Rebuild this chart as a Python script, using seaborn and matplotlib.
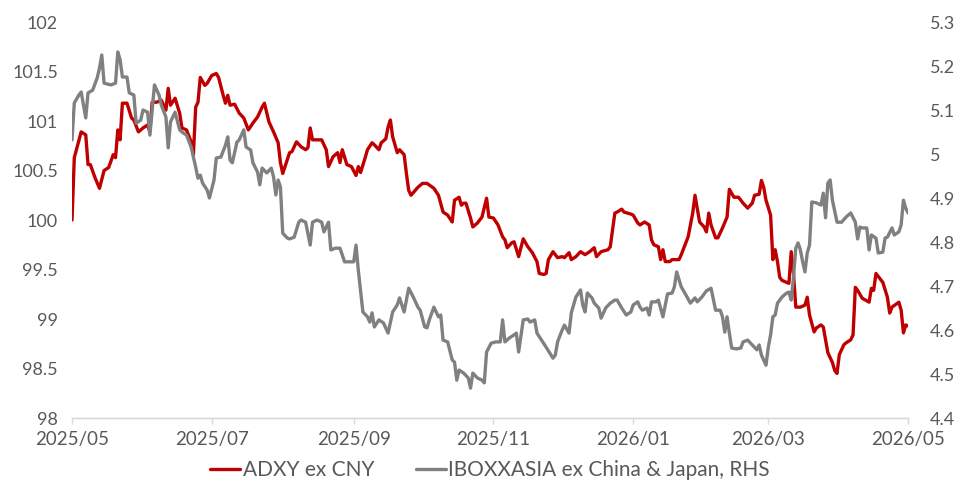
import pandas as pd
import matplotlib
matplotlib.use("Agg")
import matplotlib.pyplot as plt
import matplotlib.dates as mdates
from matplotlib.ticker import FuncFormatter
import seaborn as sns

# ADXY ex CNY (left axis)
adxy_dates = [
    "2025-05-01", "2025-05-02", "2025-05-05", "2025-05-07", "2025-05-08", "2025-05-09", "2025-05-11", "2025-05-13",
    "2025-05-15", "2025-05-17", "2025-05-19", "2025-05-20", "2025-05-21", "2025-05-22", "2025-05-23", "2025-05-25",
    "2025-05-27", "2025-05-28", "2025-05-30",
    "2025-06-01", "2025-06-03", "2025-06-04", "2025-06-05", "2025-06-07", "2025-06-09", "2025-06-11", "2025-06-12",
    "2025-06-13", "2025-06-15", "2025-06-17", "2025-06-18", "2025-06-20", "2025-06-22", "2025-06-23", "2025-06-24",
    "2025-06-25", "2025-06-26", "2025-06-28", "2025-06-29",
    "2025-07-01", "2025-07-03", "2025-07-04", "2025-07-06", "2025-07-07", "2025-07-08", "2025-07-09", "2025-07-11",
    "2025-07-13", "2025-07-15", "2025-07-17", "2025-07-19", "2025-07-21", "2025-07-23", "2025-07-24", "2025-07-26",
    "2025-07-28", "2025-07-30", "2025-07-31",
    "2025-08-01", "2025-08-02", "2025-08-04", "2025-08-05", "2025-08-07", "2025-08-09", "2025-08-11", "2025-08-12",
    "2025-08-13", "2025-08-14", "2025-08-16", "2025-08-18", "2025-08-20", "2025-08-21", "2025-08-23", "2025-08-25",
    "2025-08-26", "2025-08-27", "2025-08-29", "2025-08-31",
    "2025-09-02", "2025-09-03", "2025-09-04", "2025-09-06", "2025-09-07", "2025-09-09", "2025-09-10", "2025-09-12",
    "2025-09-13", "2025-09-15", "2025-09-16", "2025-09-17", "2025-09-18", "2025-09-20", "2025-09-21", "2025-09-23",
    "2025-09-24", "2025-09-25", "2025-09-26", "2025-09-29", "2025-09-30",
    "2025-10-01", "2025-10-03", "2025-10-06", "2025-10-08", "2025-10-10", "2025-10-12", "2025-10-14", "2025-10-15",
    "2025-10-17", "2025-10-18", "2025-10-19", "2025-10-20", "2025-10-22", "2025-10-23", "2025-10-25", "2025-10-27",
    "2025-10-29", "2025-10-30",
    "2025-11-01", "2025-11-03", "2025-11-05", "2025-11-06", "2025-11-07", "2025-11-09", "2025-11-10", "2025-11-12",
    "2025-11-14", "2025-11-16", "2025-11-18", "2025-11-20", "2025-11-21", "2025-11-23", "2025-11-24", "2025-11-25",
    "2025-11-27", "2025-11-29",
    "2025-12-01", "2025-12-02", "2025-12-04", "2025-12-05", "2025-12-07", "2025-12-09", "2025-12-11", "2025-12-13",
    "2025-12-15", "2025-12-16", "2025-12-18", "2025-12-21", "2025-12-22", "2025-12-24", "2025-12-25", "2025-12-27",
    "2025-12-28", "2025-12-31",
    "2026-01-01", "2026-01-03", "2026-01-04", "2026-01-06", "2026-01-08", "2026-01-09", "2026-01-10", "2026-01-12",
    "2026-01-13", "2026-01-14", "2026-01-15", "2026-01-17", "2026-01-18", "2026-01-21", "2026-01-22", "2026-01-25",
    "2026-01-27", "2026-01-28", "2026-01-30",
    "2026-02-01", "2026-02-02", "2026-02-03", "2026-02-04", "2026-02-06", "2026-02-07", "2026-02-09", "2026-02-11",
    "2026-02-12", "2026-02-14", "2026-02-16", "2026-02-18", "2026-02-20", "2026-02-22", "2026-02-23", "2026-02-25",
    "2026-02-26", "2026-02-27", "2026-02-28",
    "2026-03-02", "2026-03-03", "2026-03-04", "2026-03-05", "2026-03-06", "2026-03-07", "2026-03-10", "2026-03-11",
    "2026-03-12", "2026-03-13", "2026-03-15", "2026-03-17", "2026-03-18", "2026-03-19", "2026-03-21", "2026-03-22",
    "2026-03-24", "2026-03-25", "2026-03-27", "2026-03-29", "2026-03-30", "2026-03-31",
    "2026-04-01", "2026-04-03", "2026-04-04", "2026-04-06", "2026-04-07", "2026-04-08", "2026-04-09", "2026-04-11",
    "2026-04-14", "2026-04-15", "2026-04-16", "2026-04-17", "2026-04-20", "2026-04-22", "2026-04-23", "2026-04-24",
    "2026-04-27", "2026-04-28", "2026-04-29", "2026-04-30", "2026-05-01",
]
adxy_values = [
    100.00, 100.63, 100.89, 100.86, 100.56, 100.56, 100.43, 100.32, 100.50, 100.53, 100.66, 100.63, 100.91, 100.81,
    101.18, 101.18, 101.03, 101.01, 100.89,
    100.93, 100.96, 100.89, 101.19, 101.19, 101.21, 101.11, 101.33, 101.16, 101.23, 101.08, 100.93, 100.91, 100.79,
    100.66, 101.14, 101.19, 101.44, 101.36, 101.38,
    101.46, 101.48, 101.44, 101.26, 101.18, 101.26, 101.16, 101.17, 101.08, 101.03, 100.91, 100.98, 101.04, 101.14,
    101.18, 100.99, 100.89, 100.78, 100.58,
    100.47, 100.54, 100.68, 100.69, 100.79, 100.74, 100.71, 100.73, 100.93, 100.81, 100.81, 100.81, 100.71, 100.54,
    100.64, 100.68, 100.58, 100.71, 100.56, 100.54,
    100.45, 100.54, 100.48, 100.63, 100.71, 100.78, 100.76, 100.71, 100.78, 100.82, 100.94, 101.01, 100.84, 100.68,
    100.71, 100.66, 100.47, 100.30, 100.25, 100.33, 100.35,
    100.37, 100.37, 100.32, 100.25, 100.08, 100.05, 99.98, 100.20, 100.23, 100.15, 100.17, 100.17, 100.02, 99.93,
    99.97, 100.03, 100.22, 100.03,
    100.02, 99.95, 99.83, 99.80, 99.72, 99.77, 99.78, 99.63, 99.81, 99.73, 99.67, 99.58, 99.46, 99.45, 99.46, 99.60,
    99.68, 99.62,
    99.63, 99.62, 99.67, 99.60, 99.63, 99.68, 99.65, 99.68, 99.72, 99.63, 99.68, 99.70, 99.73, 100.07, 100.08, 100.11,
    100.08, 100.06,
    100.05, 99.97, 99.95, 99.98, 99.95, 99.80, 99.75, 99.73, 99.60, 99.70, 99.58, 99.58, 99.60, 99.60, 99.65, 99.83,
    100.07, 100.25, 99.98,
    99.93, 99.88, 100.07, 99.95, 99.82, 99.82, 99.92, 100.03, 100.31, 100.23, 100.23, 100.17, 100.12, 100.17, 100.25,
    100.26, 100.40, 100.33, 100.20,
    100.05, 99.60, 99.70, 99.58, 99.42, 99.39, 99.36, 99.68, 99.46, 99.12, 99.12, 99.14, 99.22, 99.04, 98.87, 98.91,
    98.94, 98.92, 98.66, 98.56, 98.48, 98.45,
    98.64, 98.74, 98.76, 98.79, 98.84, 99.32, 99.29, 99.21, 99.17, 99.31, 99.29, 99.46, 99.37, 99.22, 99.06, 99.12,
    99.17, 99.09, 98.86, 98.94, 98.93,
]

# IBOXXASIA ex China & Japan (right axis)
iboxx_dates = [
    "2025-05-01", "2025-05-02", "2025-05-04", "2025-05-05", "2025-05-07", "2025-05-08", "2025-05-10", "2025-05-12",
    "2025-05-13", "2025-05-14", "2025-05-15", "2025-05-18", "2025-05-20", "2025-05-21", "2025-05-22", "2025-05-23",
    "2025-05-25", "2025-05-26", "2025-05-28", "2025-05-29", "2025-05-31",
    "2025-06-01", "2025-06-03", "2025-06-04", "2025-06-06", "2025-06-08", "2025-06-09", "2025-06-11", "2025-06-12",
    "2025-06-13", "2025-06-15", "2025-06-17", "2025-06-18", "2025-06-20", "2025-06-22", "2025-06-24", "2025-06-25",
    "2025-06-26", "2025-06-27", "2025-06-29", "2025-06-30",
    "2025-07-02", "2025-07-03", "2025-07-05", "2025-07-07", "2025-07-08", "2025-07-09", "2025-07-10", "2025-07-12",
    "2025-07-13", "2025-07-15", "2025-07-16", "2025-07-18", "2025-07-19", "2025-07-21", "2025-07-22", "2025-07-23",
    "2025-07-25", "2025-07-27", "2025-07-28", "2025-07-29", "2025-07-30", "2025-07-31",
    "2025-08-01", "2025-08-03", "2025-08-04", "2025-08-06", "2025-08-08", "2025-08-09", "2025-08-11", "2025-08-13",
    "2025-08-14", "2025-08-16", "2025-08-18", "2025-08-19", "2025-08-21", "2025-08-22", "2025-08-24", "2025-08-26",
    "2025-08-28", "2025-08-29",
    "2025-09-01", "2025-09-02", "2025-09-03", "2025-09-05", "2025-09-07", "2025-09-08", "2025-09-09", "2025-09-10",
    "2025-09-12", "2025-09-14", "2025-09-16", "2025-09-18", "2025-09-20", "2025-09-21", "2025-09-23", "2025-09-25",
    "2025-09-27", "2025-09-29", "2025-09-30",
    "2025-10-02", "2025-10-03", "2025-10-04", "2025-10-06", "2025-10-08", "2025-10-09", "2025-10-10", "2025-10-12",
    "2025-10-14", "2025-10-15", "2025-10-16", "2025-10-17", "2025-10-19", "2025-10-21", "2025-10-22", "2025-10-23",
    "2025-10-25", "2025-10-27", "2025-10-28", "2025-10-29", "2025-10-31",
    "2025-11-02", "2025-11-04", "2025-11-05", "2025-11-06", "2025-11-08", "2025-11-10", "2025-11-11", "2025-11-12",
    "2025-11-14", "2025-11-16", "2025-11-17", "2025-11-19", "2025-11-20", "2025-11-22", "2025-11-24", "2025-11-27",
    "2025-11-28", "2025-11-29",
    "2025-12-01", "2025-12-02", "2025-12-04", "2025-12-05", "2025-12-06", "2025-12-07", "2025-12-09", "2025-12-10",
    "2025-12-11", "2025-12-12", "2025-12-14", "2025-12-15", "2025-12-17", "2025-12-18", "2025-12-20", "2025-12-22",
    "2025-12-24", "2025-12-25", "2025-12-27", "2025-12-29", "2025-12-31",
    "2026-01-01", "2026-01-03", "2026-01-04", "2026-01-05", "2026-01-07", "2026-01-08", "2026-01-09", "2026-01-11",
    "2026-01-12", "2026-01-14", "2026-01-16", "2026-01-18", "2026-01-19", "2026-01-20", "2026-01-22", "2026-01-24",
    "2026-01-26", "2026-01-28", "2026-01-29", "2026-01-31",
    "2026-02-02", "2026-02-04", "2026-02-06", "2026-02-08", "2026-02-09", "2026-02-10", "2026-02-11", "2026-02-12",
    "2026-02-13", "2026-02-15", "2026-02-17", "2026-02-18", "2026-02-20", "2026-02-22", "2026-02-24", "2026-02-25",
    "2026-02-26", "2026-02-28",
    "2026-03-01", "2026-03-02", "2026-03-03", "2026-03-04", "2026-03-05", "2026-03-07", "2026-03-09", "2026-03-10",
    "2026-03-11", "2026-03-12", "2026-03-13", "2026-03-14", "2026-03-15", "2026-03-16", "2026-03-17", "2026-03-18",
    "2026-03-19", "2026-03-20", "2026-03-22", "2026-03-24", "2026-03-25", "2026-03-26", "2026-03-27", "2026-03-28",
    "2026-03-29", "2026-03-31",
    "2026-04-02", "2026-04-04", "2026-04-06", "2026-04-08", "2026-04-09", "2026-04-10", "2026-04-11", "2026-04-13",
    "2026-04-14", "2026-04-15", "2026-04-17", "2026-04-18", "2026-04-20", "2026-04-21", "2026-04-22", "2026-04-24",
    "2026-04-25", "2026-04-27", "2026-04-28", "2026-04-29", "2026-04-30", "2026-05-01",
]
iboxx_values = [
    5.032, 5.116, 5.134, 5.141, 5.082, 5.139, 5.145, 5.173, 5.195, 5.225, 5.161, 5.157, 5.161, 5.232, 5.214, 5.175,
    5.175, 5.139, 5.134, 5.070, 5.077,
    5.100, 5.095, 5.043, 5.157, 5.134, 5.111, 5.084, 5.014, 5.073, 5.095, 5.055, 5.050, 5.043, 5.016, 4.970, 4.945,
    4.952, 4.934, 4.918, 4.900,
    4.941, 4.991, 4.993, 5.020, 5.039, 4.986, 4.980, 5.027, 5.032, 5.055, 5.016, 5.009, 4.980, 4.959, 4.930, 4.968,
    4.957, 4.968, 4.948, 4.907, 4.941, 4.925,
    4.820, 4.809, 4.807, 4.811, 4.845, 4.850, 4.845, 4.793, 4.845, 4.850, 4.845, 4.823, 4.845, 4.782, 4.786, 4.786,
    4.755, 4.755,
    4.755, 4.793, 4.736, 4.641, 4.630, 4.618, 4.639, 4.607, 4.623, 4.616, 4.593, 4.641, 4.657, 4.673, 4.641, 4.695,
    4.675, 4.652, 4.645,
    4.607, 4.605, 4.623, 4.652, 4.630, 4.634, 4.577, 4.573, 4.532, 4.527, 4.486, 4.509, 4.502, 4.491, 4.468, 4.502,
    4.491, 4.486, 4.480, 4.550, 4.570,
    4.573, 4.573, 4.623, 4.573, 4.582, 4.589, 4.593, 4.550, 4.623, 4.625, 4.618, 4.623, 4.593, 4.577, 4.561, 4.536,
    4.543, 4.573,
    4.600, 4.611, 4.593, 4.639, 4.657, 4.675, 4.691, 4.657, 4.641, 4.684, 4.673, 4.661, 4.650, 4.627, 4.650, 4.661,
    4.668, 4.668, 4.650, 4.634, 4.641,
    4.657, 4.664, 4.652, 4.645, 4.650, 4.634, 4.664, 4.664, 4.668, 4.630, 4.682, 4.684, 4.698, 4.732, 4.698, 4.680,
    4.661, 4.673, 4.664, 4.675,
    4.689, 4.695, 4.645, 4.645, 4.630, 4.595, 4.630, 4.593, 4.559, 4.557, 4.559, 4.573, 4.577, 4.566, 4.555, 4.566,
    4.543, 4.520,
    4.561, 4.589, 4.630, 4.634, 4.661, 4.675, 4.684, 4.686, 4.668, 4.720, 4.786, 4.798, 4.782, 4.755, 4.732, 4.775,
    4.793, 4.891, 4.889, 4.884, 4.911, 4.855, 4.934, 4.941, 4.895, 4.845,
    4.845, 4.857, 4.866, 4.845, 4.807, 4.834, 4.832, 4.832, 4.782, 4.816, 4.809, 4.775, 4.777, 4.809, 4.811, 4.832,
    4.816, 4.823, 4.839, 4.895, 4.877, 4.866,
]

adxy = pd.DataFrame({"date": pd.to_datetime(adxy_dates), "value": adxy_values})
iboxx = pd.DataFrame({"date": pd.to_datetime(iboxx_dates), "value": iboxx_values})

sns.set_style("white")
plt.rcParams["font.family"] = ["Lato", "DejaVu Sans"]
txt = "#595959"
axis_grey = "#d9d9d9"

fig = plt.figure(figsize=(9.55, 4.86), dpi=100)
ax = fig.add_axes([0.0754, 0.1399, 0.8754, 0.8148])
ax2 = ax.twinx()

sns.lineplot(data=adxy, x="date", y="value", ax=ax, color="#c00000", linewidth=2.4,
             label="ADXY ex CNY", legend=False)
sns.lineplot(data=iboxx, x="date", y="value", ax=ax2, color="#808080", linewidth=2.4,
             label="IBOXXASIA ex China & Japan, RHS", legend=False)

ax.set_xlim(pd.Timestamp("2025-05-01"), pd.Timestamp("2026-05-01"))
ax.set_ylim(98, 102)
ax2.set_ylim(4.4, 5.3)
ax.set_yticks([98, 98.5, 99, 99.5, 100, 100.5, 101, 101.5, 102])
ax2.set_yticks([4.4, 4.5, 4.6, 4.7, 4.8, 4.9, 5.0, 5.1, 5.2, 5.3])
fmt = FuncFormatter(lambda v, p: f"{v:g}")
ax.yaxis.set_major_formatter(fmt)
ax2.yaxis.set_major_formatter(fmt)

ax.xaxis.set_major_locator(mdates.MonthLocator(bymonth=[1, 3, 5, 7, 9, 11]))
ax.xaxis.set_major_formatter(mdates.DateFormatter("%Y/%m"))

ax.set_xlabel("")
ax.set_ylabel("")
ax2.set_xlabel("")
ax2.set_ylabel("")

for a in (ax, ax2):
    for s in ("top", "left", "right"):
        a.spines[s].set_visible(False)
    a.spines["bottom"].set_color(axis_grey)
    a.spines["bottom"].set_linewidth(1.0)
    a.grid(False)

ax.tick_params(axis="x", which="major", direction="out", length=4, width=1.0, color=axis_grey,
               labelsize=13.5, labelcolor=txt, pad=5, bottom=True)
ax.tick_params(axis="y", length=0, labelsize=13, labelcolor=txt, pad=10)
ax2.tick_params(axis="y", length=0, labelsize=13, labelcolor=txt, pad=16)

handles = ax.get_lines()[:1] + ax2.get_lines()[:1]
fig.legend(handles, [h.get_label() for h in handles], loc="center", bbox_to_anchor=(0.513, 0.033),
           ncol=2, frameon=False, fontsize=15, labelcolor=txt, handlelength=1.45,
           handletextpad=0.1, columnspacing=2.0)

fig.savefig("out.png", dpi=100)
